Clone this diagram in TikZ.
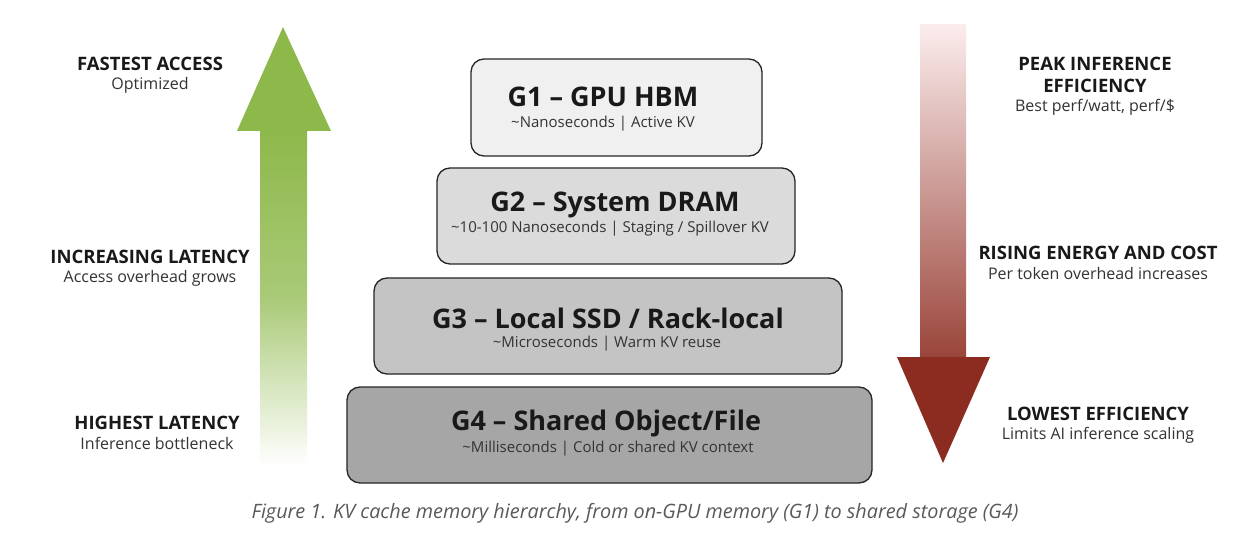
\documentclass[tikz,border=0pt]{standalone}
\usepackage{fontspec}
\setmainfont{Open Sans}
\begin{document}
\begin{tikzpicture}[x=1pt,y=-1pt,
  tier/.style={draw=black!85, line width=1.3pt, rounded corners=13pt, inner sep=0pt},
  ttl/.style={font=\fontsize{27}{32}\selectfont\bfseries, text=black!90, inner sep=0pt},
  sub/.style={font=\fontsize{15}{17}\selectfont, text=black!80, inner sep=0pt},
  lab/.style={font=\fontsize{18.5}{20}\selectfont\bfseries, text=black!90, inner sep=0pt, align=center},
  labsub/.style={font=\fontsize{16}{18}\selectfont, text=black!80, inner sep=0pt, align=center}]
\definecolor{agreen}{HTML}{8DB84A}
\definecolor{ared}{HTML}{8C2B1F}
\definecolor{apink}{HTML}{FBEDED}
\useasboundingbox[fill=white] (0,0) rectangle (1244,534);

% green arrow
\shade[top color=agreen, bottom color=white, middle color=agreen!75] (260,129) rectangle (307,466);
\fill[agreen] (237,131) -- (283,27) -- (331,131) -- cycle;

% red arrow
\shade[top color=apink, bottom color=ared!88] (920,25) rectangle (966,358);
\fill[ared] (897,357) -- (990,357) -- (943,463) -- cycle;

% tiers
\draw[tier, fill=black!6] (471,59) rectangle (762,156);
\node[ttl] (t1) at (603,97) {G1 – GPU HBM};
\node[sub] (s1) at (603,124) {\textasciitilde Nanoseconds | Active KV};

\draw[tier, fill=black!14] (437,168) rectangle (795,264);
\node[ttl] (t2) at (615,205) {G2 – System DRAM};
\node[sub] (s2) at (610,229) {\textasciitilde 10-100 Nanoseconds | Staging / Spillover KV};

\draw[tier, fill=black!23] (374,278) rectangle (842,374);
\node[ttl] (t3) at (608,318) {G3 – Local SSD / Rack-local};
\node[sub] (s3) at (607,344) {\textasciitilde Microseconds | Warm KV reuse};

\draw[tier, fill=black!35] (347,387) rectangle (872,483);
\node[ttl] (t4) at (606,423) {G4 – Shared Object/File};
\node[sub] (s4) at (608,449) {\textasciitilde Milliseconds | Cold or shared KV context};

% left labels
\node[lab] (l1) at (150,64) {FASTEST ACCESS};
\node[labsub] (l1s) at (150,85) {Optimized};
\node[lab] (l2) at (150,257) {INCREASING LATENCY};
\node[labsub] (l2s) at (150,278) {Access overhead grows};
\node[lab] (l3) at (157,423) {HIGHEST LATENCY};
\node[labsub] (l3s) at (157,443) {Inference bottleneck};

% right labels
\node[lab] (r1) at (1095,64) {PEAK INFERENCE};
\node[lab] (r1b) at (1095,86) {EFFICIENCY};
\node[labsub] (r1s) at (1095,107) {Best perf/watt, perf/\$};
\node[lab] (r2) at (1098,253) {RISING ENERGY AND COST};
\node[labsub] (r2s) at (1098,274) {Per token overhead increases};
\node[lab] (r3) at (1098,414) {LOWEST EFFICIENCY};
\node[labsub] (r3s) at (1098,435) {Limits AI inference scaling};

% caption
\node[font=\fontsize{19.8}{22}\selectfont\itshape, text=black!65, inner sep=0pt] (cap) at (635,513)
  {Figure 1. KV cache memory hierarchy, from on-GPU memory (G1) to shared storage (G4)};
\end{tikzpicture}
\end{document}
